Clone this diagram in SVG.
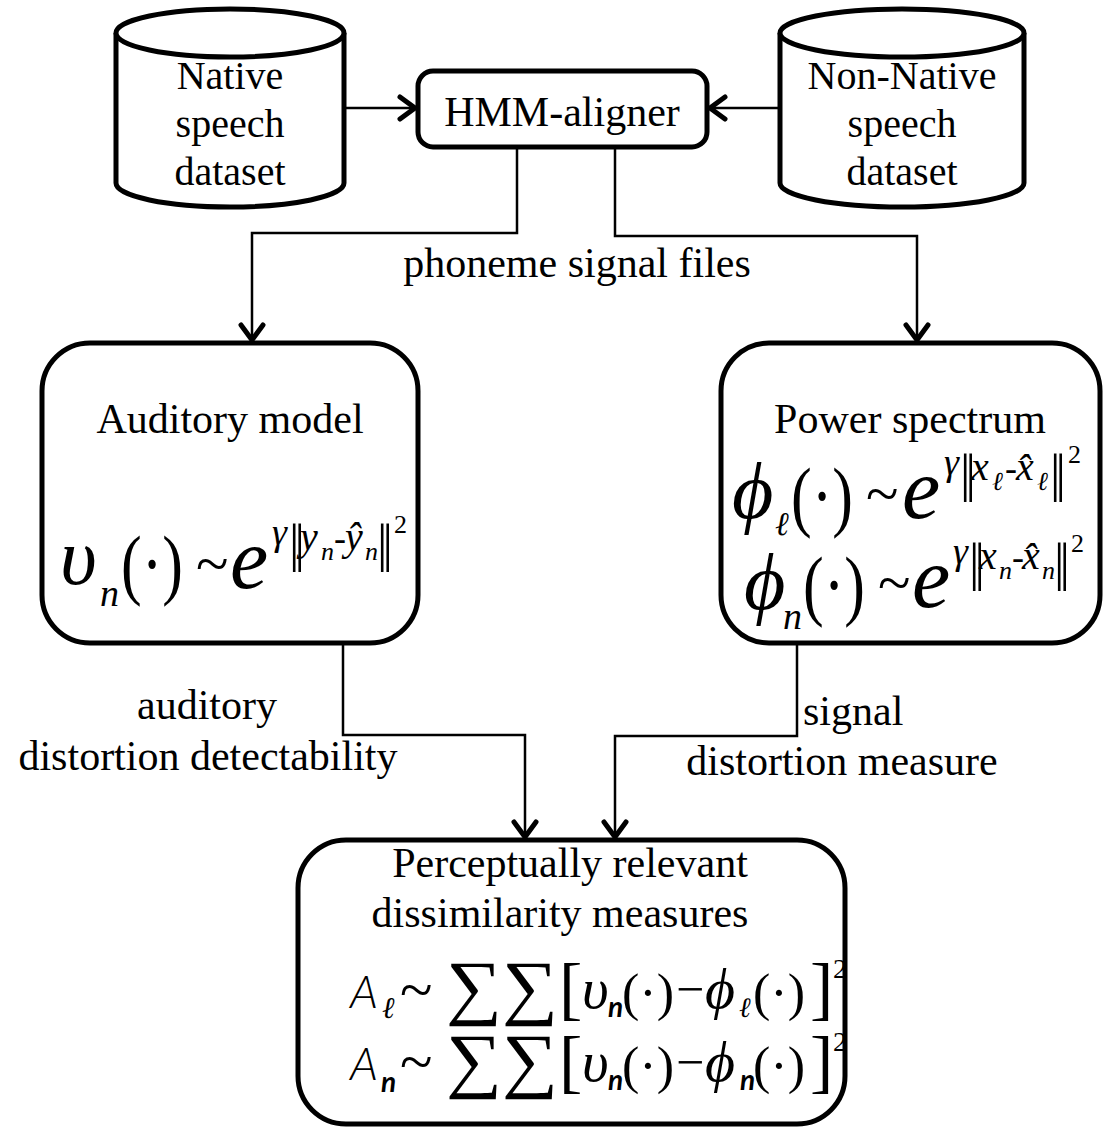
<svg xmlns="http://www.w3.org/2000/svg" width="1105" height="1127" viewBox="0 0 1105 1127">
<style>
.lbl{font-family:"Liberation Serif","Times New Roman",serif;font-size:42px;fill:#000}
.cyl{font-family:"Liberation Serif","Times New Roman",serif;font-size:40px;fill:#000;text-anchor:middle}
.shape{fill:#fff;stroke:#000;stroke-width:5}
.conn{fill:none;stroke:#000;stroke-width:2.5}
.m{font-family:"Liberation Serif","Times New Roman",serif;fill:#000}
.i{font-style:italic}
.s{font-family:Lato,"Open Sans","DejaVu Sans",sans-serif;fill:#000}
.bar{font-family:"Liberation Serif","Times New Roman",serif;font-size:52px;letter-spacing:-5px;fill:#000}
</style>
<defs>
<marker id="arr" markerUnits="userSpaceOnUse" markerWidth="30" markerHeight="30" viewBox="-20 -15 24 30" refX="0" refY="0" orient="auto">
<path d="M -15 -11 L 0 0 L -15 11" fill="none" stroke="#000" stroke-width="5" stroke-linecap="round" stroke-linejoin="miter"/>
</marker>
</defs>
<rect width="1105" height="1127" fill="#fff"/>

<g id="connectors">
<path class="conn" d="M 344 108 H 415" marker-end="url(#arr)"/>
<path class="conn" d="M 780 108 H 710" marker-end="url(#arr)"/>
<path class="conn" d="M 517 148 V 233 H 252 V 340" marker-end="url(#arr)"/>
<path class="conn" d="M 615 148 V 236 H 917 V 340" marker-end="url(#arr)"/>
<path class="conn" d="M 343 644 V 735 H 525 V 837" marker-end="url(#arr)"/>
<path class="conn" d="M 797 644 V 736 H 615 V 837" marker-end="url(#arr)"/>
<text class="lbl" x="577" y="277" text-anchor="middle">phoneme signal files</text>
<text class="lbl" x="207" y="719" text-anchor="middle">auditory</text>
<text class="lbl" x="208" y="770" text-anchor="middle">distortion detectability</text>
<text class="lbl" x="803" y="725">signal</text>
<text class="lbl" x="842" y="775" text-anchor="middle">distortion measure</text>
</g>

<g id="native-db">
<path class="shape" d="M 116 33 V 183 A 114 24 0 0 0 344 183 V 33"/>
<ellipse class="shape" cx="230" cy="33" rx="114" ry="24"/>
<text class="cyl" x="230" y="89">Native</text>
<text class="cyl" x="230" y="137">speech</text>
<text class="cyl" x="230" y="185">dataset</text>
</g>

<g id="nonnative-db">
<path class="shape" d="M 780 33 V 183 A 122 24 0 0 0 1024 183 V 33"/>
<ellipse class="shape" cx="902" cy="33" rx="122" ry="24"/>
<text class="cyl" x="902" y="89">Non-Native</text>
<text class="cyl" x="902" y="137">speech</text>
<text class="cyl" x="902" y="185">dataset</text>
</g>

<g id="hmm-aligner">
<rect class="shape" x="418" y="71" width="289" height="76" rx="15"/>
<text class="lbl" x="562" y="126" text-anchor="middle">HMM-aligner</text>
</g>

<g id="auditory-model">
<rect class="shape" x="42" y="343" width="376" height="300" rx="48"/>
<text class="lbl" x="230" y="433" text-anchor="middle">Auditory model</text>
<g class="m">
<text class="i" x="60" y="584" font-size="80">υ</text>
<text class="i" x="100" y="606" font-size="38">n</text>
<text x="121" y="590" font-size="78" textLength="62" lengthAdjust="spacingAndGlyphs">(·)</text>
<text x="196" y="584" font-size="60">~</text>
<text class="i" x="230" y="588" font-size="86">e</text>
<text class="i" x="272" y="545" font-size="38">γ</text>
<text class="bar" x="289" y="561">||</text>
<text class="i" x="300" y="550" font-size="40">y</text>
<text class="i" x="321" y="560" font-size="26">n</text>
<text x="334" y="550" font-size="36">-</text>
<text class="i" x="345" y="550" font-size="40">ŷ</text>
<text class="i" x="365" y="560" font-size="26">n</text>
<text class="bar" x="377" y="561">||</text>
<text x="394" y="533" font-size="26">2</text>
</g>
</g>

<g id="power-spectrum">
<rect class="shape" x="721" y="343" width="379" height="300" rx="48"/>
<text class="lbl" x="910" y="433" text-anchor="middle">Power spectrum</text>
<g class="m">
<text class="i" x="732" y="518" font-size="80">ϕ</text>
<text class="i" x="775" y="535" font-size="33">ℓ</text>
<text x="791" y="522" font-size="78" textLength="62" lengthAdjust="spacingAndGlyphs">(·)</text>
<text x="866" y="514" font-size="60">~</text>
<text class="i" x="902" y="518" font-size="86">e</text>
<text class="i" x="944" y="475" font-size="38">γ</text>
<text class="bar" x="960" y="491">||</text>
<text class="i" x="971" y="480" font-size="40">x</text>
<text class="i" x="992" y="490" font-size="26">ℓ</text>
<text x="1005" y="480" font-size="36">-</text>
<text class="i" x="1016" y="480" font-size="40">x̂</text>
<text class="i" x="1037" y="490" font-size="26">ℓ</text>
<text class="bar" x="1050" y="491">||</text>
<text x="1068" y="463" font-size="26">2</text>

<text class="i" x="744" y="609" font-size="80">ϕ</text>
<text class="i" x="783" y="629" font-size="38">n</text>
<text x="803" y="611" font-size="78" textLength="62" lengthAdjust="spacingAndGlyphs">(·)</text>
<text x="878" y="603" font-size="60">~</text>
<text class="i" x="912" y="607" font-size="86">e</text>
<text class="i" x="953" y="564" font-size="38">γ</text>
<text class="bar" x="969" y="580">||</text>
<text class="i" x="979" y="569" font-size="40">x</text>
<text class="i" x="999" y="579" font-size="26">n</text>
<text x="1012" y="569" font-size="36">-</text>
<text class="i" x="1022" y="569" font-size="40">x̂</text>
<text class="i" x="1042" y="579" font-size="26">n</text>
<text class="bar" x="1054" y="580">||</text>
<text x="1071" y="552" font-size="26">2</text>
</g>
</g>

<g id="dissimilarity">
<rect class="shape" x="298" y="840" width="547" height="284" rx="48"/>
<text class="lbl" x="570" y="877" text-anchor="middle">Perceptually relevant</text>
<text class="lbl" x="560" y="927" text-anchor="middle">dissimilarity measures</text>
<g>
<text class="s i" x="350" y="1008" font-size="46" font-weight="300">A</text>
<text class="m i" x="382" y="1018" font-size="30">ℓ</text>
<text class="m" x="400" y="1010" font-size="60">~</text>
<text class="m" x="446" y="1011" font-size="72" textLength="112" lengthAdjust="spacingAndGlyphs">∑∑</text>
<text class="m" x="559" y="1012" font-size="70">[</text>
<text class="m i" x="582" y="1008" font-size="58">υ</text>
<text class="s i" x="608" y="1017" font-size="28" font-weight="bold">n</text>
<text class="m" x="622" y="1010" font-size="52">(·)</text>
<text class="m" x="676" y="1006" font-size="50">−</text>
<text class="m i" x="705" y="1008" font-size="58">ϕ</text>
<text class="m i" x="739" y="1017" font-size="28">ℓ</text>
<text class="m" x="753" y="1010" font-size="52">(·)</text>
<text class="m" x="810" y="1012" font-size="70">]</text>
<text class="m" x="833" y="978" font-size="28">2</text>

<text class="s i" x="350" y="1080" font-size="46" font-weight="300">A</text>
<text class="s i" x="381" y="1092" font-size="28" font-weight="bold">n</text>
<text class="m" x="400" y="1082" font-size="60">~</text>
<text class="m" x="446" y="1084" font-size="72" textLength="112" lengthAdjust="spacingAndGlyphs">∑∑</text>
<text class="m" x="559" y="1085" font-size="70">[</text>
<text class="m i" x="582" y="1081" font-size="58">υ</text>
<text class="s i" x="608" y="1090" font-size="28" font-weight="bold">n</text>
<text class="m" x="622" y="1083" font-size="52">(·)</text>
<text class="m" x="676" y="1079" font-size="50">−</text>
<text class="m i" x="705" y="1081" font-size="58">ϕ</text>
<text class="s i" x="740" y="1090" font-size="28" font-weight="bold">n</text>
<text class="m" x="753" y="1083" font-size="52">(·)</text>
<text class="m" x="810" y="1085" font-size="70">]</text>
<text class="m" x="833" y="1051" font-size="28">2</text>
</g>
</g>
</svg>
